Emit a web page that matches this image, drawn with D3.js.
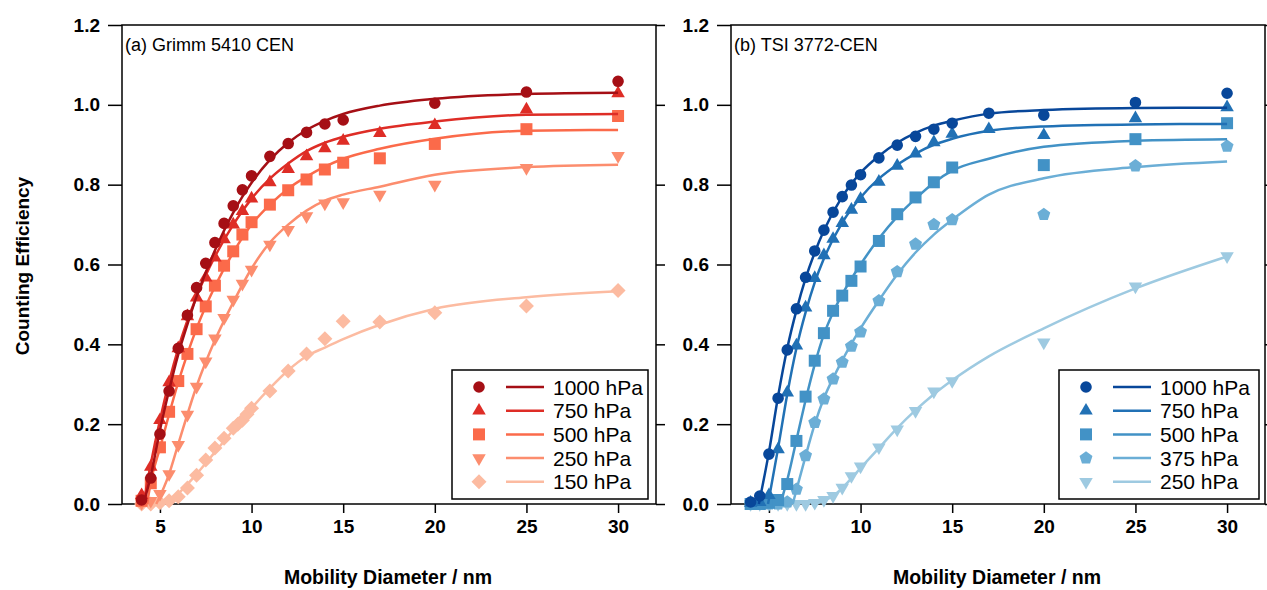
<!DOCTYPE html>
<html lang="en">
  <head>
    <meta charset="UTF-8" />
    <title>Counting efficiency</title>
    <script src="https://cdn.jsdelivr.net/npm/d3@7"></script>
    <style>
      body { margin: 0; background: #fff; }
      text { font-family: "Liberation Sans", Arial, sans-serif; fill: #000; }
      .frame { fill: none; stroke: #000; stroke-width: 1.5px; }
      .tick line { stroke: #000; stroke-width: 1.5px; }
      .tick text { font-size: 19px; font-weight: bold; }
      .fit { fill: none; stroke-width: 2.5px; }
    </style>
  </head>
  <body>
    <div id="chart"></div>
    <script>
      // measured points, [diameter nm, efficiency]
      let grimm1000 = [[4,0.01],[4.5,0.065],[5,0.175],[5.5,0.283],[6,0.39],[6.5,0.473],[7,0.542],[7.5,0.603],[8,0.655],[8.5,0.703],[9,0.747],[9.5,0.787],[10,0.822],[11,0.871],[12,0.903],[13,0.931],[14,0.952],[15,0.962],[20,1.004],[25,1.032],[30,1.059]];
      let grimm750 = [[4,0.022],[4.5,0.093],[5,0.21],[5.5,0.305],[6,0.39],[6.5,0.47],[7,0.517],[7.5,0.567],[8,0.617],[8.5,0.663],[9,0.7],[9.5,0.734],[10,0.765],[11,0.806],[12,0.839],[13,0.871],[14,0.891],[15,0.91],[17,0.929],[20,0.949],[25,0.988],[30,1.029]];
      let grimm500 = [[4,0.008],[4.5,0.052],[5,0.142],[5.5,0.231],[6,0.308],[6.5,0.376],[7,0.438],[7.5,0.495],[8,0.547],[8.5,0.597],[9,0.633],[9.5,0.675],[10,0.706],[11,0.75],[12,0.786],[13,0.813],[14,0.838],[15,0.855],[17,0.866],[20,0.902],[25,0.939],[30,0.972]];
      let grimm250 = [[4,0.003],[4.5,0.008],[5,0.025],[5.5,0.075],[6,0.148],[6.5,0.224],[7,0.294],[7.5,0.357],[8,0.415],[8.5,0.466],[9,0.512],[9.5,0.552],[10,0.587],[11,0.65],[12,0.687],[13,0.721],[14,0.753],[15,0.756],[17,0.775],[20,0.8],[25,0.842],[30,0.872]];
      let grimm150 = [[4,0],[4.5,0],[5,0.003],[5.5,0.008],[6,0.018],[6.5,0.04],[7,0.072],[7.5,0.11],[8,0.14],[8.5,0.165],[9,0.19],[9.25,0.2],[9.5,0.21],[9.75,0.225],[10,0.24],[11,0.283],[12,0.333],[13,0.376],[14,0.414],[15,0.458],[17,0.456],[20,0.479],[25,0.496],[30,0.535]];

      let tsi1000 = [[4,0.005],[4.5,0.02],[5,0.125],[5.5,0.265],[6,0.386],[6.5,0.489],[7,0.568],[7.5,0.634],[8,0.686],[8.5,0.731],[9,0.77],[9.5,0.799],[10,0.825],[11,0.867],[12,0.899],[13,0.921],[14,0.939],[15,0.954],[17,0.979],[20,0.974],[25,1.006],[30,1.029]];
      let tsi750 = [[4,0.003],[4.5,0.005],[5,0.022],[5.5,0.137],[6,0.279],[6.5,0.397],[7,0.492],[7.5,0.566],[8,0.623],[8.5,0.664],[9,0.704],[9.5,0.737],[10,0.764],[11,0.807],[12,0.847],[13,0.878],[14,0.906],[15,0.927],[17,0.939],[20,0.924],[25,0.966],[30,0.994]];
      let tsi500 = [[4,0],[4.5,0],[5,0.003],[5.5,0.01],[6,0.05],[6.5,0.158],[7,0.269],[7.5,0.359],[8,0.428],[8.5,0.484],[9,0.522],[9.5,0.559],[10,0.595],[11,0.659],[12,0.726],[13,0.768],[14,0.806],[15,0.843],[20,0.849],[25,0.914],[30,0.954]];
      let tsi375 = [[4,0],[4.5,0],[5,0],[5.5,0],[6,0.005],[6.5,0.037],[7,0.121],[7.5,0.204],[8,0.263],[8.5,0.313],[9,0.355],[9.5,0.395],[10,0.431],[11,0.509],[12,0.582],[13,0.651],[14,0.7],[15,0.712],[20,0.725],[25,0.847],[30,0.896]];
      let tsi250 = [[4,0],[4.5,0],[5,0],[5.5,0],[6,0],[6.5,0],[7,0],[7.5,0.003],[8,0.01],[8.5,0.02],[9,0.041],[9.5,0.07],[10,0.094],[11,0.142],[12,0.187],[13,0.233],[14,0.282],[15,0.308],[20,0.405],[25,0.545],[30,0.621]];

      // fitted curves
      let grimmFit1000 = [[4.1,0],[4.5,0.07],[5,0.185],[5.5,0.285],[6,0.375],[6.5,0.45],[7,0.52],[7.5,0.58],[8,0.635],[8.5,0.685],[9,0.73],[9.5,0.77],[10,0.805],[11,0.862],[12,0.905],[13,0.937],[14,0.96],[15,0.977],[17,0.998],[20,1.015],[25,1.027],[30,1.03]];
      let grimmFit750 = [[4.1,0],[4.5,0.1],[5,0.21],[6,0.39],[7,0.52],[8,0.62],[9,0.7],[10,0.765],[11,0.815],[12,0.853],[13,0.884],[14,0.905],[15,0.92],[17,0.94],[20,0.958],[25,0.975],[30,0.977]];
      let grimmFit500 = [[4.3,0],[4.5,0.055],[5,0.14],[6,0.305],[7,0.44],[8,0.545],[9,0.63],[10,0.7],[11,0.75],[12,0.79],[13,0.82],[14,0.845],[15,0.865],[17,0.89],[20,0.915],[25,0.935],[30,0.937]];
      let grimmFit250 = [[4.8,0],[5.5,0.075],[6,0.15],[7,0.295],[8,0.41],[9,0.505],[10,0.59],[11,0.655],[12,0.7],[13,0.735],[14,0.76],[15,0.775],[17,0.795],[20,0.825],[25,0.844],[30,0.85]];
      let grimmFit150 = [[5.5,0],[6,0.025],[7,0.075],[8,0.13],[9,0.185],[10,0.24],[11,0.29],[12,0.335],[13,0.37],[14,0.392],[15,0.413],[17,0.449],[20,0.489],[25,0.518],[30,0.533]];

      let tsiFit1000 = [[4.45,0],[5,0.13],[5.5,0.27],[6,0.39],[6.5,0.485],[7,0.565],[7.5,0.63],[8,0.685],[9,0.77],[10,0.83],[11,0.872],[12,0.905],[13,0.93],[14,0.948],[15,0.96],[17,0.978],[20,0.987],[25,0.992],[30,0.993]];
      let tsiFit750 = [[4.95,0],[5.5,0.14],[6,0.275],[6.5,0.39],[7,0.48],[7.5,0.555],[8,0.615],[9,0.705],[10,0.768],[11,0.815],[12,0.85],[13,0.878],[14,0.9],[15,0.915],[17,0.935],[20,0.946],[25,0.951],[30,0.952]];
      let tsiFit500 = [[5.75,0.02],[6,0.06],[6.5,0.16],[7,0.26],[7.5,0.35],[8,0.425],[8.5,0.48],[9,0.525],[10,0.6],[11,0.665],[12,0.72],[13,0.765],[14,0.805],[15,0.835],[17,0.865],[20,0.895],[25,0.91],[30,0.914]];
      let tsiFit375 = [[6.3,0],[6.5,0.035],[7,0.12],[7.5,0.2],[8,0.265],[8.5,0.315],[9,0.36],[10,0.44],[11,0.51],[12,0.575],[13,0.63],[14,0.675],[15,0.712],[17,0.775],[20,0.816],[25,0.844],[30,0.858]];
      let tsiFit250 = [[7.5,0],[8,0.008],[8.5,0.02],[9,0.04],[10,0.09],[11,0.14],[12,0.19],[13,0.235],[14,0.275],[15,0.31],[17,0.37],[20,0.44],[25,0.54],[30,0.62]];

      let xTicks = [5, 10, 15, 20, 25, 30];
      let yTicks = [0, 0.2, 0.4, 0.6, 0.8, 1.0, 1.2];
      let grimmLabels = ["1000 hPa", "750 hPa", "500 hPa", "250 hPa", "150 hPa"];
      let tsiLabels = ["1000 hPa", "750 hPa", "500 hPa", "375 hPa", "250 hPa"];
      let reds = ["#a50f15", "#de2d26", "#fb6a4a", "#fc8d6e", "#fcbba1"];
      let blues = ["#08479a", "#2171b5", "#4292c6", "#6baed6", "#9ecae1"];

      let width = 1267,
        height = 590;

      let svg = d3
        .select("#chart")
        .append("svg")
        .attr("width", width)
        .attr("height", height);

      // marker shapes, all centred on 0,0
      function markerPath(shape) {
        let p = d3.path();
        if (shape === "circle") {
          p.arc(0, 0, 5.8, 0, 2 * Math.PI);
        } else if (shape === "up" || shape === "down") {
          let s = 13.5, h = s * 0.866, k = shape === "up" ? 1 : -1;
          p.moveTo(0, -k * h * 2 / 3);
          p.lineTo(s / 2, k * h / 3);
          p.lineTo(-s / 2, k * h / 3);
          p.closePath();
        } else if (shape === "square") {
          p.rect(-6, -6, 12, 12);
        } else if (shape === "diamond") {
          p.moveTo(0, -7.5); p.lineTo(7.5, 0); p.lineTo(0, 7.5); p.lineTo(-7.5, 0);
          p.closePath();
        } else if (shape === "pentagon") {
          for (let i = 0; i < 5; i++) {
            let a = -Math.PI / 2 + i * 2 * Math.PI / 5;
            if (i === 0) p.moveTo(6.8 * Math.cos(a), 6.8 * Math.sin(a));
            else p.lineTo(6.8 * Math.cos(a), 6.8 * Math.sin(a));
          }
          p.closePath();
        }
        return p.toString();
      }

      function drawPanel(opt) {
        let x = d3.scaleLinear().domain([2.93, 32.07]).range([opt.left, opt.left + 534]);
        let y = d3.scaleLinear().domain([0, 1.2]).range([504, 25]);
        let g = svg.append("g");

        g.append("g")
          .attr("transform", "translate(0,504)")
          .call(d3.axisBottom(x).tickValues(xTicks).tickSize(9).tickPadding(7).tickFormat(d3.format("d")))
          .call(function (a) { a.select(".domain").remove(); });
        g.append("g")
          .attr("transform", "translate(" + opt.left + ",0)")
          .call(d3.axisLeft(y).tickValues(yTicks).tickSize(14).tickPadding(8).tickFormat(d3.format(".1f")))
          .call(function (a) { a.select(".domain").remove(); });
        g.append("g")
          .attr("transform", "translate(" + (opt.left + 534) + ",0)")
          .call(d3.axisRight(y).tickValues(yTicks).tickSize(9).tickFormat(""))
          .call(function (a) { a.select(".domain").remove(); });

        g.append("rect")
          .attr("class", "frame")
          .attr("x", opt.left)
          .attr("y", 25)
          .attr("width", 534)
          .attr("height", 479);

        let line = d3.line()
          .x(function (d) { return x(d[0]); })
          .y(function (d) { return y(d[1]); })
          .curve(d3.curveMonotoneX);

        // draw lighter series first so the dark ones sit on top
        for (let i = opt.series.length - 1; i >= 0; i--) {
          let s = opt.series[i];
          g.append("path")
            .attr("class", "fit")
            .attr("stroke", opt.colors[i])
            .attr("d", line(s.fit));
          g.append("g")
            .selectAll("path")
            .data(s.points)
            .enter()
            .append("path")
            .attr("d", markerPath(opt.shapes[i]))
            .attr("fill", opt.colors[i])
            .attr("transform", function (d) {
              return "translate(" + x(d[0]) + "," + y(d[1]) + ")";
            });
        }

        g.append("text")
          .attr("x", opt.left + 3)
          .attr("y", 51)
          .style("font-size", "18px")
          .text(opt.title);

        g.append("text")
          .attr("x", opt.left + 266)
          .attr("y", 584)
          .attr("text-anchor", "middle")
          .style("font-size", "19.5px")
          .style("font-weight", "bold")
          .text("Mobility Diameter / nm");

        // legend
        let lg = g.append("g").attr("transform", "translate(" + opt.legend[0] + ",370)");
        lg.append("rect")
          .attr("class", "frame")
          .attr("width", opt.legend[1])
          .attr("height", 129);
        opt.labels.forEach(function (lab, i) {
          let row = lg.append("g").attr("transform", "translate(0," + (17 + i * 23.7) + ")");
          row.append("path")
            .attr("d", markerPath(opt.shapes[i]))
            .attr("fill", opt.colors[i])
            .attr("transform", "translate(" + opt.legend[2] + ",0)");
          row.append("line")
            .attr("x1", opt.legend[3])
            .attr("x2", opt.legend[3] + 38)
            .attr("stroke", opt.colors[i])
            .attr("stroke-width", 2.5);
          row.append("text")
            .attr("x", opt.legend[3] + 47)
            .attr("y", 7.5)
            .style("font-size", "21px")
            .text(lab);
        });
      }

      drawPanel({
        left: 122,
        title: "(a) Grimm 5410 CEN",
        colors: reds,
        shapes: ["circle", "up", "square", "down", "diamond"],
        labels: grimmLabels,
        legend: [452, 196, 27, 54],
        series: [
          { points: grimm1000, fit: grimmFit1000 },
          { points: grimm750, fit: grimmFit750 },
          { points: grimm500, fit: grimmFit500 },
          { points: grimm250, fit: grimmFit250 },
          { points: grimm150, fit: grimmFit150 }
        ]
      });

      drawPanel({
        left: 731,
        title: "(b) TSI 3772-CEN",
        colors: blues,
        shapes: ["circle", "up", "square", "pentagon", "down"],
        labels: tsiLabels,
        legend: [1059, 200, 27, 54],
        series: [
          { points: tsi1000, fit: tsiFit1000 },
          { points: tsi750, fit: tsiFit750 },
          { points: tsi500, fit: tsiFit500 },
          { points: tsi375, fit: tsiFit375 },
          { points: tsi250, fit: tsiFit250 }
        ]
      });

      svg.append("text")
        .attr("transform", "translate(29,266) rotate(-90)")
        .attr("text-anchor", "middle")
        .style("font-size", "19px")
        .style("font-weight", "bold")
        .text("Counting Efficiency");
    </script>
  </body>
</html>
